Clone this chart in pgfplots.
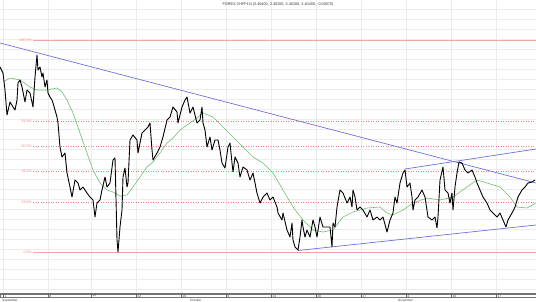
\documentclass[border=0pt]{standalone}
\usepackage{pgfplots}
\pgfplotsset{compat=1.18}
\usepackage{fontspec}
\setmainfont{Liberation Sans}
\definecolor{fibred}{RGB}{236,130,130}
\definecolor{fibsolid}{RGB}{242,165,165}
\definecolor{trendblue}{RGB}{112,112,222}
\definecolor{magreen}{RGB}{110,190,110}
\definecolor{gridgray}{RGB}{236,236,236}
\begin{document}
\begin{tikzpicture}
\begin{axis}[
  scale only axis, width=536bp, height=294bp,
  xmin=0, xmax=536, ymin=0, ymax=294, y dir=reverse,
  clip=false,
  axis line style={draw=none}, tick style={draw=none},
  xtick={3,48,91,136,181,226,271,316,361,406,451,496},
  ytick={9,19,...,289},
  xticklabels={}, yticklabels={},
  grid=major, major grid style={gridgray, line width=0.5bp},
]
% Fibonacci levels
\addplot[fibsolid, line width=0.9bp] coordinates {(33,40) (536,40)};
\addplot[fibred, line width=0.5bp, dash pattern=on 1bp off 1.5bp] coordinates {(33,121) (536,121)};
\addplot[fibred, line width=0.5bp, dash pattern=on 1bp off 1.5bp] coordinates {(33,146) (536,146)};
\addplot[fibred, line width=0.5bp, dash pattern=on 1bp off 1.5bp] coordinates {(33,171) (536,171)};
\addplot[fibred, line width=0.5bp, dash pattern=on 1bp off 1.5bp] coordinates {(33,202) (536,202)};
\addplot[fibsolid, line width=0.9bp] coordinates {(33,252.5) (536,252.5)};
\begin{scope}[every node/.style={anchor=east, text=fibred, font=\fontsize{3.6}{4}\selectfont, inner sep=0pt}]
\node at (axis cs:32,40) {100.0\%};
\node at (axis cs:32,121) {61.8\%};
\node at (axis cs:32,146) {50.0\%};
\node at (axis cs:32,171) {38.2\%};
\node at (axis cs:32,202) {23.6\%};
\node at (axis cs:32,252.5) {0.0\%};
\end{scope}
% trend lines
\addplot[trendblue, line width=0.7bp] coordinates {(0,43) (536,183)};
\addplot[trendblue, line width=0.7bp] coordinates {(298,250.5) (536,225)};
\addplot[trendblue, line width=0.7bp] coordinates {(405,169) (536,149)};
% moving average
\addplot[magreen, line width=0.6bp] coordinates {
(3,82) (10,78) (20,80) (30,87) (37,90) (47,90) (57,88) (62,92) (67,100) (73,113)
(80,133) (87,153) (93,170) (100,183) (107,190) (113,192) (120,196) (127,195) (133,187)
(140,177) (147,167) (153,162) (160,153) (167,143) (173,138) (180,130) (187,125) (193,121)
(203,113) (213,117) (223,127) (233,137) (243,147) (253,157) (263,163) (273,173) (283,190)
(293,207) (303,220) (313,230) (323,232) (333,230) (343,217) (353,212) (367,208) (380,207)
(387,213) (393,215) (403,210) (413,203) (427,198) (440,200) (453,197) (467,187) (477,180)
(487,183) (500,187) (510,197) (517,207) (527,208) (536,203)};
% price
\addplot[black, line width=0.9bp, line join=round] coordinates {
(0,67) (3,73) (5,90) (7,115) (10,102) (13,107) (15,110) (17,100) (18,83) (20,80) (22,87)
(25,102) (27,90) (30,93) (33,107) (35,77) (37,55) (38,70) (40,67) (42,77) (43,73) (45,87)
(47,80) (48,93) (50,97) (52,100) (53,103) (57,117) (58,123) (60,147) (62,157) (65,153)
(67,173) (70,187) (72,197) (75,180) (78,183) (80,190) (83,187) (87,193) (90,197) (93,200)
(95,217) (97,203) (100,200) (102,190) (105,177) (107,187) (110,183) (113,160) (115,158)
(117,240) (118,252) (120,227) (122,210) (123,177) (125,168) (127,187) (128,183) (130,140)
(133,135) (137,140) (138,153) (142,133) (145,130) (148,127) (150,123) (152,150) (153,160)
(157,153) (160,147) (163,137) (167,120) (170,117) (173,107) (177,112) (178,123) (182,107)
(185,100) (187,97) (190,113) (193,107) (197,123) (200,120) (202,107) (203,123) (205,130)
(207,147) (210,137) (212,150) (215,140) (218,140) (220,150) (222,163) (225,168) (228,147)
(230,143) (232,163) (233,172) (235,157) (238,163) (240,177) (243,167) (247,170) (250,180)
(253,173) (257,193) (260,203) (263,197) (267,193) (270,200) (273,197) (277,207) (278,213)
(282,220) (283,213) (287,230) (290,237) (292,223) (293,240) (295,247) (298,250) (300,237)
(302,220) (303,227) (305,237) (307,230) (310,237) (313,220) (315,227) (317,237) (320,217)
(323,227) (327,227) (330,227) (332,247) (333,223) (335,227) (337,207) (340,190) (343,193)
(347,203) (350,197) (352,207) (353,190) (355,197) (357,210) (360,207) (363,210) (367,217)
(370,210) (373,220) (377,217) (380,220) (383,217) (387,232) (390,220) (393,213) (395,197)
(397,203) (400,183) (403,173) (405,170) (407,187) (410,183) (412,197) (413,210) (415,200)
(418,197) (422,190) (425,197) (428,217) (432,220) (435,217) (437,228) (438,217) (440,180)
(443,167) (445,190) (448,193) (450,203) (452,193) (453,210) (455,187) (457,173) (459,162)
(462,163) (465,170) (468,173) (472,170) (475,177) (477,183) (480,190) (483,197) (487,203)
(490,210) (493,213) (497,217) (500,213) (503,220) (506,227) (508,220) (512,213) (515,207)
(518,197) (522,190) (525,187) (528,183) (532,182) (535,180)};
% header
\node[font=\fontsize{3.8}{4}\selectfont, text=black!80, inner sep=0pt] at (axis cs:278,5)
  {FOREX CHFPLN (3.40400, 3.40250, 3.40200, 3.40400, -0.00070)};
% bottom date strip
\draw[black!55, line width=0.4bp] (axis cs:0,293.2) rectangle (axis cs:536,297.6);
\draw[black!55, line width=0.3bp] (axis cs:0,294.2) -- (axis cs:536,294.2);
\draw[black!60, line width=0.4bp]
  (axis cs:3,293.2) -- (axis cs:3,297.6)
  (axis cs:48,293.2) -- (axis cs:48,297.6)
  (axis cs:91,293.2) -- (axis cs:91,297.6)
  (axis cs:136,293.2) -- (axis cs:136,297.6)
  (axis cs:181,293.2) -- (axis cs:181,297.6)
  (axis cs:226,293.2) -- (axis cs:226,297.6)
  (axis cs:271,293.2) -- (axis cs:271,297.6)
  (axis cs:316,293.2) -- (axis cs:316,297.6)
  (axis cs:361,293.2) -- (axis cs:361,297.6)
  (axis cs:406,293.2) -- (axis cs:406,297.6)
  (axis cs:451,293.2) -- (axis cs:451,297.6)
  (axis cs:496,293.2) -- (axis cs:496,297.6);
\begin{scope}[every node/.style={anchor=west, font=\fontsize{3.2}{4}\selectfont, text=black!75, inner sep=0pt}]
\node at (axis cs:4.5,295.9) {1};
\node at (axis cs:49.5,295.9) {8};
\node at (axis cs:92.5,295.9) {15};
\node at (axis cs:137.5,295.9) {22};
\node at (axis cs:182.5,295.9) {29};
\node at (axis cs:227.5,295.9) {6};
\node at (axis cs:272.5,295.9) {13};
\node at (axis cs:317.5,295.9) {20};
\node at (axis cs:362.5,295.9) {27};
\node at (axis cs:407.5,295.9) {3};
\node at (axis cs:452.5,295.9) {10};
\node at (axis cs:497.5,295.9) {17};
\node at (axis cs:2,300.2) {September};
\node at (axis cs:190,300.2) {October};
\node at (axis cs:398,300.2) {November};
\end{scope}
\coordinate (TL) at (axis cs:0,0);
\coordinate (BR) at (axis cs:536,302);
\end{axis}
\pgfresetboundingbox
\useasboundingbox (TL) rectangle (BR);
\end{tikzpicture}
\end{document}
